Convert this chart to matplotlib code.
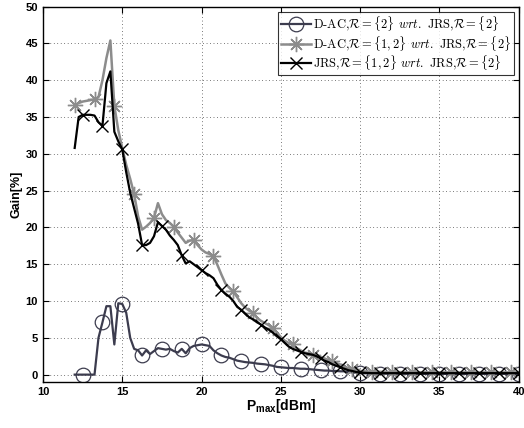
import numpy as np
import matplotlib
matplotlib.use("Agg")
import matplotlib.pyplot as plt

plt.rcParams["mathtext.fontset"] = "cm"
plt.rcParams["mathtext.bf"] = "Liberation Sans:bold"

# P_max grid (dBm), 0.25 dBm step
p_max = np.arange(12, 40.001, 0.25)

# gain [%]
dac_2 = [
    0.0, 0.0, 0.0, 0.0, 0.0, 0.0, 5.0, 7.1, 9.3, 9.3,
    4.1, 9.7, 9.6, 8.4, 5.0, 3.5, 3.3, 2.6, 3.3, 2.8,
    3.2, 3.6, 3.5, 3.4, 3.5, 3.2, 3.0, 3.5, 2.9, 3.6,
    3.9, 4.0, 4.1, 4.0, 3.9, 3.3, 2.9, 2.6, 2.4, 2.3,
    2.1, 1.9, 1.8, 1.7, 1.65, 1.6, 1.5, 1.45, 1.4, 1.3,
    1.2, 1.05, 1.0, 0.95, 0.9, 0.9, 0.85, 0.8, 0.8, 0.75,
    0.7, 0.65, 0.6, 0.55, 0.55, 0.5, 0.5, 0.45, 0.45, 0.35,
    0.3, 0.25, 0.2, 0.18, 0.17, 0.16, 0.15, 0.15, 0.14, 0.14,
    0.13, 0.13, 0.12, 0.12, 0.12, 0.11, 0.11, 0.11, 0.1, 0.1,
    0.1, 0.1, 0.1, 0.1, 0.1, 0.1, 0.1, 0.1, 0.1, 0.1,
    0.1, 0.1, 0.1, 0.1, 0.1, 0.1, 0.1, 0.1, 0.1, 0.1,
    0.1, 0.1, 0.1,
]
dac_12 = [
    36.6, 36.9, 37.1, 37.2, 37.3, 37.4, 37.7, 40.0, 43.0, 45.4,
    36.5, 33.2, 30.8, 28.5, 26.6, 24.5, 21.5, 19.7, 20.1, 20.6,
    21.3, 23.3, 21.8, 21.0, 20.6, 20.1, 19.3, 18.6, 17.9, 18.2,
    18.3, 17.6, 17.0, 16.6, 16.4, 16.1, 14.9, 13.6, 12.4, 11.8,
    11.3, 10.5, 9.7, 9.1, 8.7, 8.4, 7.7, 7.3, 7.0, 6.7,
    6.3, 5.7, 5.1, 4.6, 4.3, 4.1, 3.6, 3.3, 3.0, 2.9,
    2.7, 2.6, 2.4, 2.2, 2.0, 1.8, 1.6, 1.3, 1.1, 0.9,
    0.7, 0.6, 0.5, 0.45, 0.42, 0.4, 0.4, 0.38, 0.37, 0.36,
    0.35, 0.35, 0.34, 0.34, 0.33, 0.33, 0.33, 0.32, 0.32, 0.32,
    0.32, 0.31, 0.31, 0.31, 0.31, 0.31, 0.3, 0.3, 0.3, 0.3,
    0.3, 0.3, 0.3, 0.3, 0.3, 0.3, 0.3, 0.3, 0.3, 0.3,
    0.3, 0.3, 0.3,
]
jrs_12 = [
    30.8, 35.0, 35.3, 35.3, 35.3, 35.2, 34.3, 33.8, 39.6, 41.2,
    33.0, 31.7, 30.6, 27.5, 24.7, 22.6, 20.5, 17.6, 17.6, 17.9,
    18.8, 20.7, 20.2, 19.7, 18.9, 18.3, 17.6, 16.2, 15.1, 15.4,
    15.0, 14.6, 14.2, 13.8, 13.5, 13.1, 12.2, 11.5, 11.0, 10.6,
    10.0, 9.2, 8.8, 8.3, 7.8, 7.5, 7.1, 6.8, 6.4, 6.1,
    5.7, 5.2, 4.8, 4.3, 3.8, 3.5, 3.3, 3.1, 2.9, 2.8,
    2.7, 2.5, 2.2, 1.9, 1.7, 1.4, 1.2, 1.0, 0.8, 0.6,
    0.5, 0.35, 0.3, 0.25, 0.22, 0.2, 0.2, 0.2, 0.2, 0.2,
    0.2, 0.2, 0.2, 0.2, 0.2, 0.2, 0.2, 0.2, 0.2, 0.2,
    0.2, 0.2, 0.2, 0.2, 0.2, 0.2, 0.2, 0.2, 0.2, 0.2,
    0.2, 0.2, 0.2, 0.2, 0.2, 0.2, 0.2, 0.2, 0.2, 0.2,
    0.2, 0.2, 0.2,
]

labels = [
    r"D-AC,$\mathcal{R}=\{2\}$ $wrt.$ JRS,$\mathcal{R}=\{2\}$",
    r"D-AC,$\mathcal{R}=\{1,2\}$ $wrt.$ JRS,$\mathcal{R}=\{2\}$",
    r"JRS,$\mathcal{R}=\{1,2\}$ $wrt.$ JRS,$\mathcal{R}=\{2\}$",
]

fig = plt.figure(figsize=(5.24, 4.28), dpi=100)
ax = fig.add_axes([0.082, 0.1075, 0.908, 0.877])

ax.plot(p_max, dac_2, color="#3c3c4e", lw=1.6, marker="o", ms=10.5,
        mfc="none", mec="#3c3c4e", mew=0.9, markevery=(2, 5), label=labels[0])
ax.plot(p_max, dac_12, color="#8c8c8c", lw=1.8, marker=(8, 2, 0), ms=11,
        mec="#8c8c8c", mew=1.0, markevery=(0, 5), label=labels[1])
ax.plot(p_max, jrs_12, color="black", lw=1.6, marker="x", ms=8.5,
        mec="black", mew=1.0, markevery=(2, 5), label=labels[2])

ax.set_xlim(10, 40)
ax.set_ylim(-1, 50)
ax.set_xticks(range(10, 41, 5))
ax.set_yticks(range(0, 51, 5))
ax.grid(True, color="black", linestyle=(0, (1, 4)), linewidth=0.5)
ax.tick_params(direction="in", top=True, right=True, length=4, labelsize=8)
for lab in ax.get_xticklabels() + ax.get_yticklabels():
    lab.set_fontweight("bold")
    lab.set_fontfamily("Liberation Sans")
for s in ax.spines.values():
    s.set_linewidth(1.0)

ax.set_ylabel("Gain[%]", fontsize=9, fontweight="bold", family="Liberation Sans", labelpad=2)
ax.set_xlabel(r"$\mathbf{P_{max}}$[dBm]", fontsize=10, fontweight="bold",
              family="Liberation Sans", math_fontfamily="custom", labelpad=0)

leg = ax.legend(loc="upper right", prop={"family": "cmr10", "size": 9},
                frameon=True, fancybox=False, edgecolor="black",
                handlelength=2.4, handletextpad=0.2, borderpad=0.2,
                labelspacing=0.05, borderaxespad=0.4)
leg.get_frame().set_linewidth(0.8)

fig.savefig("out.png", dpi=100)
